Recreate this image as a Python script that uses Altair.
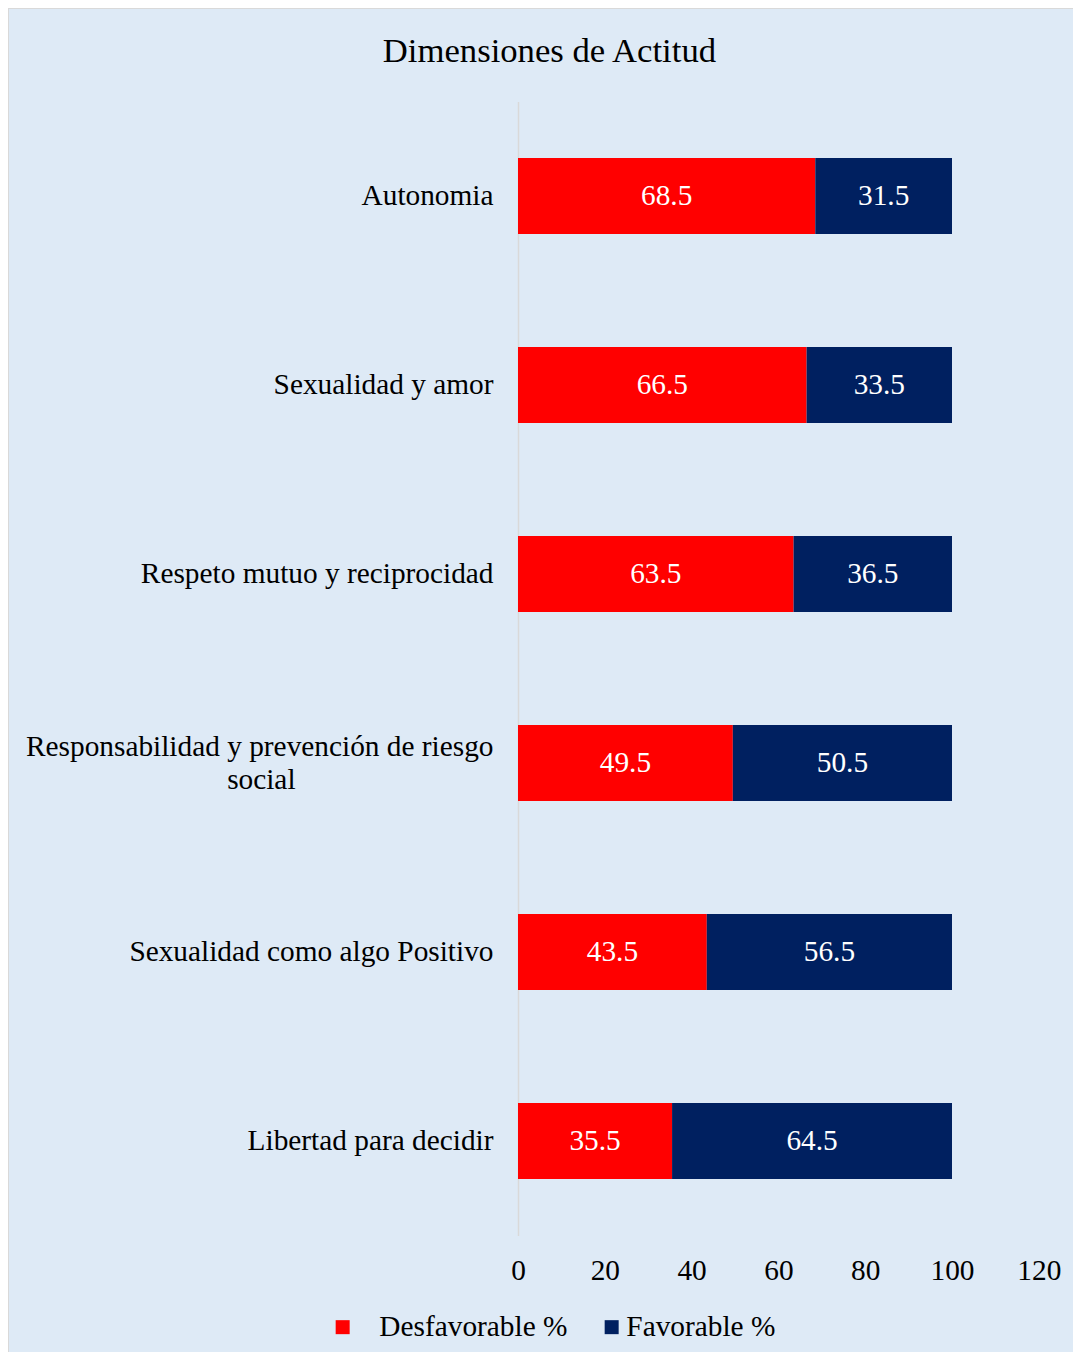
import altair as alt
import pandas as pd

FONT = "Liberation Serif"
NBSP = "\u00a0"
ZW = "\u200b"

categories = [
    "Autonomia",
    "Sexualidad y amor",
    "Respeto mutuo y reciprocidad",
    "Responsabilidad y prevención de riesgo social",
    "Sexualidad como algo Positivo",
    "Libertad para decidir",
]
desfavorable = [68.5, 66.5, 63.5, 49.5, 43.5, 35.5]
favorable = [31.5, 33.5, 36.5, 50.5, 56.5, 64.5]
series = ["Desfavorable %", "Favorable %"]
colors = ["#FF0000", "#002060"]
x_ticks = [0, 20, 40, 60, 80, 100, 120]

rows = []
for c, d, f in zip(categories, desfavorable, favorable):
    rows.append({"cat": c, "serie": series[0], "val": d, "ord": 0})
    rows.append({"cat": c, "serie": series[1], "val": f, "ord": 1})
df = pd.DataFrame(rows)

W = 520.8
H = 1134
PAD_L, PAD_T = 510, 93.5
TOTAL_W, TOTAL_H = 1065, 1344
PAD_R = TOTAL_W - PAD_L - W
PAD_B = TOTAL_H - PAD_T - H

LONG = "Responsabilidad y prevención de riesgo social"
label_expr = (
    "datum.label == '" + LONG + "' ? "
    "['Responsabilidad y prevención de riesgo', 'social" + NBSP * 27 + ZW + "'] : datum.label"
)

y_enc = alt.Y(
    "cat:N",
    sort=categories,
    scale=alt.Scale(paddingInner=0.598, paddingOuter=0.299),
    axis=alt.Axis(
        title=None, domain=True, domainColor="#D9D9D9", domainWidth=1.5,
        ticks=False, grid=False, labelFontSize=29.33, labelFont=FONT,
        labelColor="#000000", labelPadding=25, labelLimit=800,
        labelLineHeight=33, labelExpr=label_expr,
        labelOffset={"condition": {"test": "datum.value == '" + LONG + "'", "value": -16.5}, "value": 0},
    ),
)

base = alt.Chart(df).transform_stack(
    stack="val", groupby=["cat"], as_=["x0", "x1"], sort=[alt.SortField("ord")]
).transform_calculate(mid="(datum.x0 + datum.x1) / 2")

bars = base.mark_bar().encode(
    y=y_enc,
    x=alt.X(
        "x0:Q",
        scale=alt.Scale(domain=[0, 120], nice=False),
        axis=alt.Axis(
            title=None, values=x_ticks, domain=False, ticks=False, grid=False,
            labelFontSize=29.33, labelFont=FONT, labelColor="#000000",
            labelPadding=21, labelFlush=False, labelOverlap=False,
        ),
    ),
    x2="x1:Q",
    color=alt.Color(
        "serie:N",
        scale=alt.Scale(domain=series, range=colors),
        legend=alt.Legend(
            title=None, orient="none", legendX=-190, legendY=1211,
            direction="horizontal", symbolType="square", symbolSize=196,
            symbolStrokeWidth=0, labelFontSize=29.33, labelFont=FONT,
            labelColor="#000000", labelOffset=0, columnPadding=29, padding=0,
            labelLimit=600,
            labelExpr="datum.label == 'Desfavorable %' ? '" + ZW + NBSP * 3 + "Desfavorable %' : datum.label",
        ),
    ),
)

texts = base.mark_text(color="white", fontSize=29.33, font=FONT, baseline="middle").encode(
    y=alt.Y("cat:N", sort=categories),
    x=alt.X("mid:Q"),
    text=alt.Text("val:Q", format=".1f"),
)

one = alt.Data(values=[{"k": 1}])
top_border = alt.Chart(one).mark_rule(color="#D9D9D9", strokeWidth=2).encode(
    x=alt.value(-PAD_L), x2=alt.value(TOTAL_W - PAD_L), y=alt.value(-PAD_T)
)
left_border = alt.Chart(one).mark_rule(color="#D9D9D9", strokeWidth=2).encode(
    x=alt.value(-PAD_L), y=alt.value(-PAD_T), y2=alt.value(TOTAL_H - PAD_T)
)

chart = alt.layer(bars, texts, top_border, left_border).properties(
    width=W,
    height=H,
    autosize=alt.AutoSizeParams(type="none"),
    padding={"left": PAD_L, "top": PAD_T, "right": PAD_R, "bottom": PAD_B},
    background="#DEEAF6",
    title=alt.TitleParams(
        "Dimensiones de Actitud", fontSize=34.7, font=FONT, fontWeight="normal",
        color="#000000", anchor="middle", frame="group", dx=-229,
        baseline="alphabetic", offset=-90,
    ),
).configure(font=FONT).configure_view(strokeWidth=0, stroke="transparent")

chart.save("out.html", embed_options={"renderer": "svg", "actions": False})
